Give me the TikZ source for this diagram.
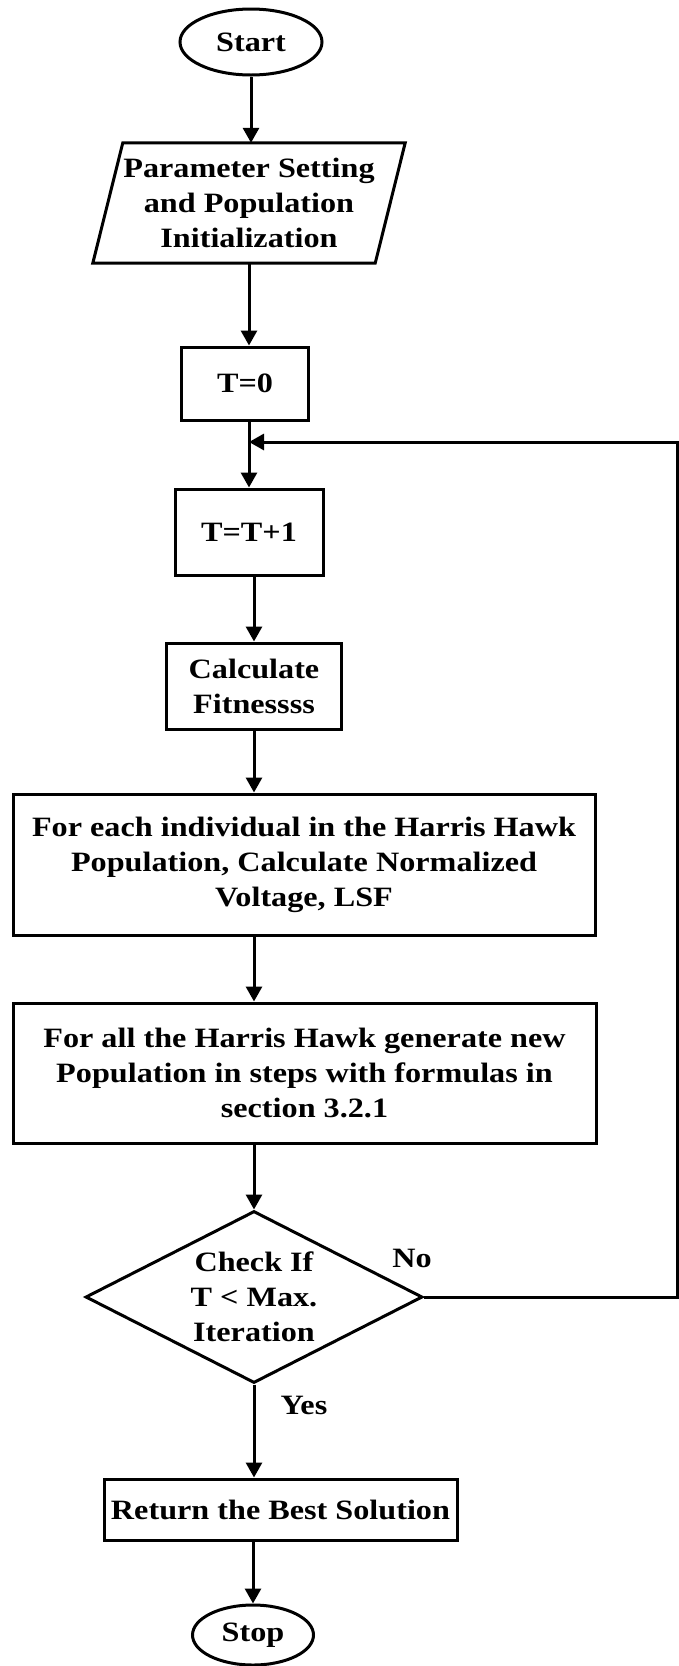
\documentclass[tikz,border=0pt]{standalone}
\usepackage{fontspec}
\setmainfont{Liberation Serif}[FakeStretch=1.15]
\usetikzlibrary{shapes.geometric,arrows.meta}

\begin{document}
\begin{tikzpicture}[x=1pt,y=-1pt]
\tikzstyle{every node}=[font=\bfseries\fontsize{28}{35}\selectfont,inner sep=2pt];
\tikzstyle{term}=[draw,ellipse,line width=3pt];
\tikzstyle{io}=[rectangle,align=center];
\tikzstyle{box}=[draw,rectangle,align=center,line width=3pt];
\tikzstyle{decision}=[draw,diamond,aspect=2,align=center,inner sep=0pt,line width=3pt];
\tikzstyle{arr}=[line width=3pt,-{Triangle[width=16pt,length=15pt]}];
\useasboundingbox (0,0) rectangle (678,1666);

\node[term,minimum width=142pt,minimum height=66pt] (start) at (251,42) {Start};
\node[io,minimum width=282pt,minimum height=120pt] (param) at (249,203) {Parameter Setting\\and Population\\Initialization};
\draw[line width=3pt,line join=miter] ([xshift=15pt]param.north west) -- ([xshift=15pt]param.north east)
  -- ([xshift=-15pt]param.south east) -- ([xshift=-15pt]param.south west) -- cycle;
\node[box,minimum width=127pt,minimum height=73pt] (tzero) at (245,383.5) {T=0};
\node[box,minimum width=148pt,minimum height=86pt] (tinc) at (249,532) {T=T+1};
\node[box,minimum width=175pt,minimum height=86pt] (calc) at (254,686) {Calculate\\Fitnessss};
\node[box,minimum width=582pt,minimum height=141pt] (hhpop) at (304,864.5) {For each individual in the Harris Hawk\\Population, Calculate Normalized\\Voltage, LSF};
\node[box,minimum width=583pt,minimum height=140pt] (newpop) at (304.5,1073) {For all the Harris Hawk generate new\\Population in steps with formulas in\\section 3.2.1};
\node[decision,minimum width=337pt,minimum height=172pt] (check) at (254,1297) {Check If\\T < Max.\\Iteration};
\node[box,minimum width=353pt,minimum height=61pt] (ret) at (280.5,1509.5) {Return the Best Solution};
\node[term,minimum width=121pt,minimum height=60pt] (stop) at (253,1635) {Stop};
\node (no) at (412,1258) {No};
\node (yes) at (304,1405) {Yes};
\coordinate (join) at (249,442);

% main flow
\draw[arr] (start) -- (start |- param.north);
\draw[arr] (param.south) -- (param.south |- tzero.north);
\draw[arr] (tzero.south -| join) -- (join |- tinc.north);
\draw[arr] (tinc.south -| calc) -- (calc.north);
\draw[arr] (calc.south) -- (calc.south |- hhpop.north);
\draw[arr] (hhpop.south -| calc.south) -- (calc.south |- newpop.north);
\draw[arr] (newpop.south -| check.north) -- (check.north);
\draw[arr] (check.south) -- (check.south |- ret.north);
\draw[arr] (ret.south -| stop.north) -- (stop.north);
% loop back
\draw[arr] (check.east) -- ++(253,0) |- (join);
\end{tikzpicture}
\end{document}
